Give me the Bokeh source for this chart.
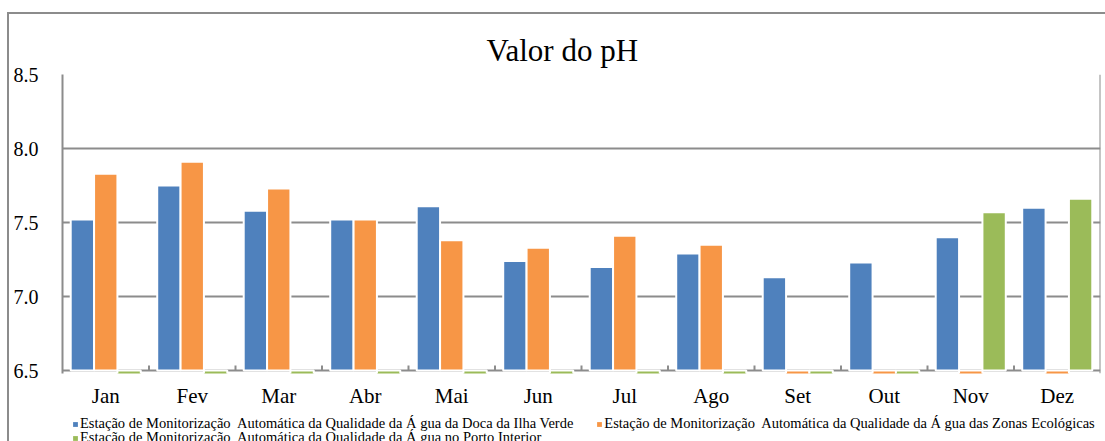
from bokeh.plotting import figure
from bokeh.layouts import column
from bokeh.models import (Range1d, FactorRange, FixedTicker, Span, Legend, LegendItem,
                          ColumnDataSource, PrintfTickFormatter)
from bokeh.transform import dodge
from bokeh.embed import file_html
from bokeh.resources import INLINE

months = ["Jan", "Fev", "Mar", "Abr", "Mai", "Jun", "Jul", "Ago", "Set", "Out", "Nov", "Dez"]
doca = [7.52, 7.75, 7.58, 7.52, 7.61, 7.24, 7.20, 7.29, 7.13, 7.23, 7.40, 7.60]
zonas = [7.83, 7.91, 7.73, 7.52, 7.38, 7.33, 7.41, 7.35, None, None, None, None]
porto = [None, None, None, None, None, None, None, None, None, None, 7.57, 7.66]
y_ticks = [6.5, 7.0, 7.5, 8.0, 8.5]
series_names = [
    "Estação de Monitorização  Automática da Qualidade da Á gua da Doca da Ilha Verde",
    "Estação de Monitorização  Automática da Qualidade da Á gua das Zonas Ecológicas",
    "Estação de Monitorização  Automática da Qualidade da Á gua no Porto Interior",
]
colors = ["#4F81BD", "#F79646", "#9BBB59"]

FONT = "Liberation Serif"
GRID = "#8C8C8C"

def fill(vals):
    # missing values are drawn like Excel does: a stub below the axis minimum
    return [0 if v is None else v for v in vals]

src = ColumnDataSource(dict(month=months, doca=fill(doca), zonas=fill(zonas), porto=fill(porto)))

p = figure(width=1105, height=410, x_range=FactorRange(*months),
           y_range=Range1d(y_ticks[0] - 0.02, y_ticks[-1]),
           output_backend="svg", toolbar_location=None,
           min_border_left=62, min_border_right=5, min_border_top=74, min_border_bottom=37)
p.outline_line_color = None
p.background_fill_color = "white"
p.border_fill_color = None

p.title.text = "Valor do pH"
p.title.align = "left"
p.title.offset = 424
p.title.text_font = FONT
p.title.text_font_size = "31px"
p.title.text_font_style = "normal"
p.title.text_color = "black"
p.title.standoff = 14

# y axis
p.yaxis.ticker = FixedTicker(ticks=y_ticks)
p.yaxis.formatter = PrintfTickFormatter(format="%.1f")
p.yaxis.major_label_text_font = FONT
p.yaxis.major_label_text_font_size = "20px"
p.yaxis.major_label_text_color = "black"
p.yaxis.major_tick_line_color = None
p.yaxis.major_tick_out = 0
p.yaxis.major_tick_in = 0
p.yaxis.minor_tick_line_color = None
p.yaxis.axis_line_color = GRID
p.yaxis.axis_line_width = 2
p.yaxis.major_label_standoff = 24

p.ygrid.ticker = FixedTicker(ticks=y_ticks)
p.ygrid.grid_line_color = GRID
p.ygrid.grid_line_width = 2
p.xgrid.grid_line_color = None

# x axis
p.xaxis.major_tick_line_color = None
p.xaxis.major_tick_out = 0
p.xaxis.major_tick_in = 0
p.xaxis.axis_line_color = None
p.xaxis.major_label_text_font = FONT
p.xaxis.major_label_text_font_size = "21px"
p.xaxis.major_label_text_color = "black"
p.xaxis.major_label_standoff = 10

w = 0.27
for i, (col, c) in enumerate(zip(["doca", "zonas", "porto"], colors)):
    off = (i - 1) * w
    p.vbar(x=dodge("month", off, range=p.x_range), top=col, bottom=y_ticks[0], width=w,
           source=src, fill_color=c, line_color="white", line_width=2)

# category boundary ticks on the bottom axis (inside)
bounds = list(range(1, len(months)))
p.segment(x0=bounds, y0=[y_ticks[0]] * len(bounds), x1=bounds, y1=[y_ticks[0] + 0.034] * len(bounds),
          line_color=GRID, line_width=2)

# plot area right border
p.add_layout(Span(location=len(months), dimension="height", line_color=GRID, line_width=2))

# ---- legend strip (a frame-only figure so the legend is not clipped) ----
pl = figure(width=1105, height=31, x_range=Range1d(0, 1), y_range=Range1d(0, 1),
            output_backend="svg", toolbar_location=None,
            min_border_left=0, min_border_right=0, min_border_top=0, min_border_bottom=0)
pl.axis.visible = False
pl.grid.visible = False
pl.outline_line_color = None
pl.background_fill_color = None
pl.border_fill_color = None
# zero-size swatch renderers that only carry the legend colours
swatch = ColumnDataSource(dict(x=[0], top=[0], bottom=[0]))
dummy = [pl.vbar(x="x", top="top", bottom="bottom", width=0, source=swatch,
                 fill_color=c, line_color=None) for c in colors]

def make_legend(items, y):
    lg = Legend(items=items, orientation="horizontal")
    lg.label_text_font = FONT
    lg.label_text_font_size = "14.5px"
    lg.label_text_color = "black"
    lg.glyph_width = 6
    lg.glyph_height = 6
    lg.label_standoff = 2
    lg.label_height = 14
    lg.spacing = 23
    lg.padding = 0
    lg.margin = 0
    lg.border_line_color = None
    lg.background_fill_alpha = 0
    lg.location = (10, y)
    return lg

items = [LegendItem(label=n, renderers=[r]) for n, r in zip(series_names, dummy)]
pl.add_layout(make_legend(items[:2], 9))
pl.add_layout(make_legend(items[2:], -5))

line = "linear-gradient(#8C8C8C, #8C8C8C)"
chart = column(p, pl, spacing=0,
               styles={"background": f"{line} 7px 12px / 2px calc(100% - 12px) no-repeat, "
                                     f"{line} 7px 12px / calc(100% - 7px) 2px no-repeat, white"})

open("out.html", "w").write(file_html(chart, INLINE))
